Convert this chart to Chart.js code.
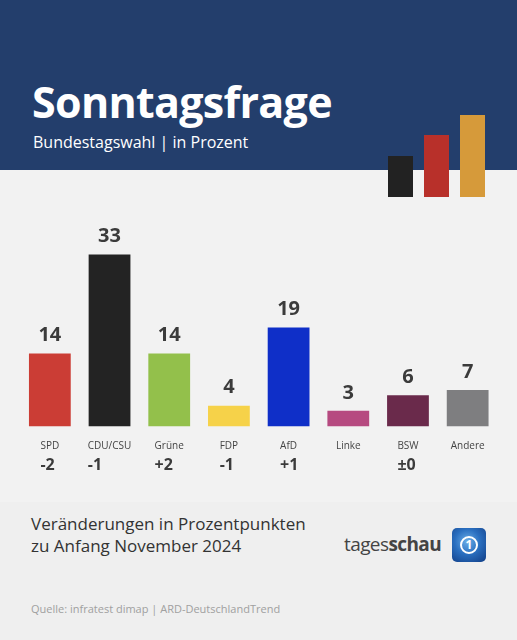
<!DOCTYPE html>
<html>
<head>
<meta charset="utf-8">
<script src="https://cdn.jsdelivr.net/npm/chart.js@4"></script>
<style>
  body { margin: 0; }
  .page { position: relative; width: 517px; height: 640px; background: #f2f2f2; overflow: hidden; font-family: "Open Sans", sans-serif; }
  .header { position: absolute; left: 0; top: 0; width: 517px; height: 170px; background: #233e6c; }
  .title { position: absolute; left: 32px; top: 80px; color: #fff; font-weight: 700; font-size: 43px; letter-spacing: -0.7px; line-height: 1; }
  .subtitle { position: absolute; left: 33px; top: 134px; color: #fff; font-size: 16px; line-height: 1; }
  .flag { position: absolute; width: 25px; bottom: 0; }
  .footer { position: absolute; left: 0; top: 502px; width: 517px; height: 138px; background: #efefef; }
  .note { position: absolute; left: 31px; top: 513px; color: #333; font-size: 17px; line-height: 22px; }
  .source { position: absolute; left: 31px; top: 601px; color: #a0a0a0; font-size: 11px; }
  .brand { position: absolute; left: 344px; top: 535px; color: #444; font-size: 19px; line-height: 1; letter-spacing: -0.6px; }
  .icon { position: absolute; left: 452px; top: 528px; width: 34px; height: 34px; border-radius: 5px;
          background: radial-gradient(circle at 45% 40%, #6aaee8 0%, #2a6fc0 45%, #103c84 100%); }
  .icon .ring { position: absolute; left: 8px; top: 8px; width: 14px; height: 14px; border: 2px solid #fff; border-radius: 50%;
                color: #fff; font-weight: 700; font-size: 12px; line-height: 14px; text-align: center; }
  canvas { position: absolute; left: 0; top: 170px; }
</style>
</head>
<body>
<div class="page">
  <div class="header">
    <div class="title">Sonntagsfrage</div>
    <div class="subtitle">Bundestagswahl | in Prozent</div>
  </div>
  <div class="footer"></div>
  <canvas id="pollChart" width="517" height="330"></canvas>
  <div class="flag" style="left:388px; top:156px; height:41px; background:#222222;"></div>
  <div class="flag" style="left:424px; top:135px; height:62px; background:#b8302a;"></div>
  <div class="flag" style="left:460px; top:115px; height:82px; background:#d69a3a;"></div>
  <div class="note">Veränderungen in Prozentpunkten<br>zu Anfang November 2024</div>
  <div class="brand">tages<b>schau</b></div>
  <div class="icon"><div class="ring">1</div></div>
  <div class="source">Quelle: infratest dimap | ARD-DeutschlandTrend</div>
</div>

<script>
// Sonntagsfrage data
const parties = ["SPD", "CDU/CSU", "Grüne", "FDP", "AfD", "Linke", "BSW", "Andere"]
const values = [14, 33, 14, 4, 19, 3, 6, 7]
const changes = ["-2", "-1", "+2", "-1", "+1", "", "±0", ""]
const barColors = ["#cb3d35", "#232323", "#93c04b", "#f6d249", "#0f2fc8", "#b64a80", "#6a2a4b", "#7e7e80"]

const labelFont = '10px "Open Sans"'

// value on top of bar, change below the party name
const barLabels = {
	id: 'barLabels',
	afterDatasetsDraw(chart) {
		let c = chart.ctx
		let meta = chart.getDatasetMeta(0)
		let bottom = chart.chartArea.bottom
		c.save()
		meta.data.forEach(function (bar, i) {
			c.fillStyle = "#3b3b3b"
			c.textAlign = 'center'
			c.textBaseline = 'middle'
			c.font = 'bold 20px "Open Sans"'
			c.fillText(values[i], bar.x, bar.y - 18)

			if (changes[i] !== "") {
				c.font = labelFont
				let w = c.measureText(parties[i]).width
				c.font = 'bold 16px "Open Sans"'
				c.textAlign = 'left'
				c.fillText(changes[i], bar.x - w / 2, bottom + 39)
			}
		})
		c.restore()
	}
}

let ctx = document.getElementById("pollChart").getContext('2d');
var pollChart = new Chart(ctx, {
	type: 'bar',
	data: {
		labels: parties,
		datasets: [{
			data: values,
			backgroundColor: barColors,
			barPercentage: 0.7,
			categoryPercentage: 1
		}]
	},
	options: {
		responsive: false,
		animation: false,
		devicePixelRatio: 1,
		layout: {
			padding: { top: 48, left: 20, right: 19.5, bottom: 13.5 }
		},
		plugins: {
			legend: { display: false },
			tooltip: { enabled: false }
		},
		scales: {
			x: {
				grid: { display: false, drawTicks: false },
				border: { display: false },
				ticks: {
					color: "#444",
					font: { family: "Open Sans", size: 10 },
					padding: 14,
					maxRotation: 0,
					autoSkip: false
				},
				afterFit: function (scale) {
					scale.height = 60
				}
			},
			y: {
				display: false,
				min: 0,
				max: 40
			}
		}
	},
	plugins: [barLabels]
});
</script>
</body>
</html>
